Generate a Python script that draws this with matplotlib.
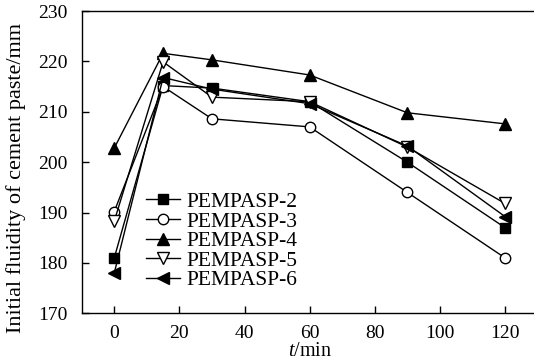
import matplotlib
matplotlib.use("Agg")
import matplotlib.pyplot as plt

plt.rcParams['font.family'] = ['Liberation Serif', 'DejaVu Serif']
plt.rcParams['mathtext.fontset'] = 'custom'
plt.rcParams['mathtext.it'] = 'Liberation Serif:italic'
plt.rcParams['mathtext.rm'] = 'Liberation Serif'

t = [0, 15, 30, 60, 90, 120]
pempasp2 = [181.0, 215.2, 214.7, 212.0, 200.0, 187.0]
pempasp3 = [190.2, 215.0, 208.6, 207.0, 194.0, 181.0]
pempasp4 = [202.8, 221.6, 220.3, 217.3, 209.8, 207.6]
pempasp5 = [188.3, 219.9, 212.9, 212.0, 203.0, 191.8]
pempasp6 = [178.0, 216.8, 214.5, 211.6, 203.2, 189.2]
labels = ["PEMPASP-2", "PEMPASP-3", "PEMPASP-4", "PEMPASP-5", "PEMPASP-6"]
xticks = [0, 20, 40, 60, 80, 100, 120]
yticks = [170, 180, 190, 200, 210, 220, 230]

W, H = 534, 363
fig = plt.figure(figsize=(W / 100, H / 100), dpi=100)
x0, x1 = 81.7, 537.6
ytop, ybot = 11, 313.3
ax = fig.add_axes([x0 / W, 1 - ybot / H, (x1 - x0) / W, (ybot - ytop) / H])

series = [pempasp2, pempasp3, pempasp4, pempasp5, pempasp6]
styles = [
    dict(marker='s', mfc='black', ms=6.5),
    dict(marker='o', mfc='white', ms=7.5),
    dict(marker='^', mfc='black', ms=8),
    dict(marker='v', mfc='white', ms=8),
    dict(marker='<', mfc='black', ms=8),
]
for s, lab, st in zip(series, labels, styles):
    ax.plot(t, s, color='black', lw=1.0, mec='black', mew=1.0, label=lab, **st)

ax.set_xlim(-10, 130)
ax.set_ylim(170, 230)
ax.set_xticks(xticks)
ax.set_yticks(yticks)
ax.tick_params(direction='in', length=5, width=1, labelsize=14)
ax.tick_params(axis='x', pad=8.5)
ax.tick_params(axis='y', pad=10)
for sp in ax.spines.values():
    sp.set_linewidth(1.0)

ax.set_xlabel(r'$t$/min', fontsize=14.5, labelpad=0)
ax.set_ylabel('Initial fluidity of cement paste/mm', fontsize=16)
ax.yaxis.set_label_coords(-0.122, 0.448)

leg = ax.legend(loc='upper left', bbox_to_anchor=(0.1225, 0.43), frameon=False,
                fontsize=15.5, handlelength=1.55, handletextpad=0.3,
                labelspacing=-0.025, borderaxespad=0)

fig.savefig('out.png', dpi=100)
